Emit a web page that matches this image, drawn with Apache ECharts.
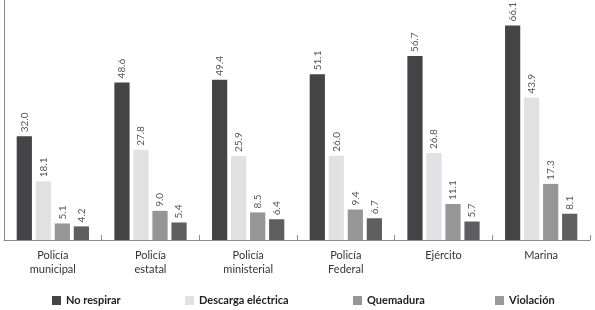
<!DOCTYPE html>
<html>
<head>
<meta charset="UTF-8">
<title>Tortura por autoridad</title>
<script src="https://cdn.jsdelivr.net/npm/echarts@6/dist/echarts.min.js"></script>
<style>
  html, body { margin: 0; padding: 0; background: #fff; }
</style>
</head>
<body>
<div id="main" style="width: 595px;height:310px;"></div>
<script type="text/javascript">
// categorias y valores (%)
var categories = ['Policía\nmunicipal', 'Policía\nestatal', 'Policía\nministerial', 'Policía\nFederal', 'Ejército', 'Marina'];
var noRespirar = [32.0, 48.6, 49.4, 51.1, 56.7, 66.1];
var descarga = [18.1, 27.8, 25.9, 26.0, 26.8, 43.9];
var quemadura = [5.1, 9.0, 8.5, 9.4, 11.1, 17.3];
var violacion = [4.2, 5.4, 6.4, 6.7, 5.7, 8.1];

var names = ['No respirar', 'Descarga eléctrica', 'Quemadura', 'Violación'];
var colors = ['#444446', '#e1e1e3', '#969696', '#5e5e60'];
// el cuadro de la leyenda de Violación es más claro que sus barras
var legendColors = ['#444446', '#e1e1e3', '#969696', '#9a9a9a'];
var values = [noRespirar, descarga, quemadura, violacion];
var legendLeft = [47, 180, 348, 490];

var myChart = echarts.init(document.getElementById('main'));

var series = names.map(function (n, i) {
    return {
        name: n,
        type: 'bar',
        data: values[i],
        barGap: '25%',
        barCategoryGap: '26%',
        itemStyle: { color: colors[i] },
        label: {
            show: true,
            position: 'top',
            rotate: 90,
            align: 'left',
            verticalAlign: 'middle',
            distance: 4,
            color: '#555',
            fontSize: 10,
            fontFamily: 'Lato',
            formatter: function (p) { return p.value.toFixed(1); }
        }
    };
});

var legends = names.map(function (n, i) {
    return {
        data: [n],
        left: legendLeft[i],
        top: 290,
        itemWidth: 9,
        itemHeight: 9,
        itemGap: 6,
        icon: 'rect',
        itemStyle: { color: legendColors[i] },
        textStyle: { fontSize: 11, fontWeight: 'bold', color: '#222', fontFamily: 'Lato' }
    };
});

var option = {
    animation: false,
    color: colors,
    legend: legends,
    grid: { left: 4, right: 5, top: 0, bottom: 70, containLabel: false },
    xAxis: {
        type: 'category',
        data: categories,
        axisLine: { lineStyle: { color: '#8a8a8a', width: 1 } },
        axisTick: { show: true, inside: true, length: 5, lineStyle: { color: '#8a8a8a' } },
        axisLabel: { color: '#333', fontSize: 11, fontFamily: 'Lato', margin: 8, lineHeight: 14 }
    },
    yAxis: {
        type: 'value',
        min: 0,
        max: 74,
        axisLine: { show: true, lineStyle: { color: '#8a8a8a', width: 1 } },
        axisTick: { show: false },
        axisLabel: { show: false },
        splitLine: { show: false }
    },
    series: series
};

myChart.setOption(option);
</script>
</body>
</html>
